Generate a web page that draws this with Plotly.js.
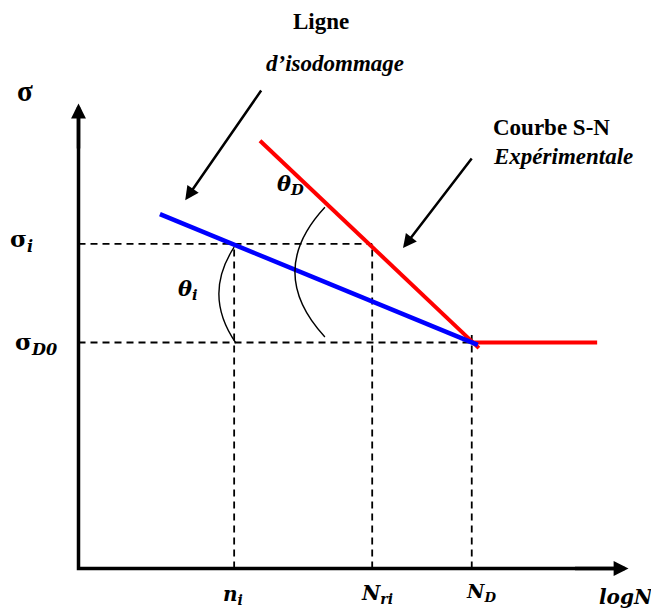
<!DOCTYPE html>
<html>
<head>
<meta charset="utf-8">
<script src="https://cdn.plot.ly/plotly-3.0.1.min.js"></script>
<style>html,body{margin:0;padding:0;background:#fff}</style>
</head>
<body>
<div id="chart" style="width:651px;height:610px"></div>
<script>
// Schematic S-N diagram: log N on x, stress sigma on y (arbitrary units, axes run 0..10)
const axisEnd = [10, 10];                 // tips of the logN and sigma axes
const cycleMarks = [2.83, 5.34, 7.15];    // n_i, N_ri, N_D
const stressMarks = [6.98, 4.86];         // sigma_i, sigma_D0

// Experimental S-N curve: sloped branch, then endurance plateau
const snSlopeX = [3.30, 7.28];
const snSlopeY = [9.20, 4.74];
const snPlateauX = [7.15, 9.43];
const snPlateauY = [4.86, 4.86];

// Iso-damage line
const isoX = [1.48, 7.26];
const isoY = [7.62, 4.81];

// Angle arcs: start, bulge control, end
const arcThetaI = [[2.83, 6.91], [2.26, 5.88], [2.86, 4.85]];
const arcThetaD = [[4.48, 7.77], [3.39, 6.38], [4.48, 4.98]];

// Pointer arrows: [tail, head]
const isoPointer = [[3.34, 10.31], [1.94, 7.92]];
const snPointer = [[7.17, 8.85], [5.90, 6.89]];

const nI = cycleMarks[0], nRi = cycleMarks[1], nD = cycleMarks[2];
const sigI = stressMarks[0], sigD0 = stressMarks[1];

const dashLine = {color: '#000', width: 1.8, dash: '7px,5px'};
function seg(x, y, line) {
  return {x: x, y: y, type: 'scatter', mode: 'lines', line: line,
          hoverinfo: 'skip', showlegend: false};
}

const traces = [
  // guide lines
  seg([0, nRi], [sigI, sigI], dashLine),
  seg([0, nD], [sigD0, sigD0], dashLine),
  seg([nI, nI], [0, sigI], dashLine),
  seg([nRi, nRi], [0, sigI], dashLine),
  seg([nD, nD], [0, sigD0 + 0.16], dashLine),
  // axes
  seg([0, 0, axisEnd[0] - 0.2], [axisEnd[1] - 0.2, 0, 0], {color: '#000', width: 3.5}),
  // curves
  seg(snSlopeX, snSlopeY, {color: '#ff0000', width: 4}),
  seg(snPlateauX, snPlateauY, {color: '#ff0000', width: 4}),
  seg(isoX, isoY, {color: '#0000ff', width: 4.5})
];

function arcPath(a) {
  return 'M' + a[0][0] + ',' + a[0][1] + ' Q' + a[1][0] + ',' + a[1][1] + ' ' + a[2][0] + ',' + a[2][1];
}
const shapes = [arcThetaI, arcThetaD].map(a => ({
  type: 'path', xref: 'x', yref: 'y', path: arcPath(a),
  line: {color: '#000', width: 1.4}
}));

const serif = 'Liberation Serif, Times New Roman, serif';
const math = 'DejaVu Serif, serif';

function label(x, y, text, size, family, anchor) {
  return {x: x, y: y, xref: 'x', yref: 'y', text: text, showarrow: false,
          xanchor: anchor || 'center', yanchor: 'middle',
          font: {family: family, size: size, color: '#000'}};
}
function arrow(tail, head, width, size) {
  return {x: head[0], y: head[1], ax: tail[0], ay: tail[1], axref: 'x', ayref: 'y',
          xref: 'x', yref: 'y', text: '', showarrow: true, arrowhead: 2,
          arrowsize: size, arrowwidth: width, arrowcolor: '#000'};
}

const annotations = [
  // axis heads
  arrow([0, axisEnd[1] - 1], [0, axisEnd[1]], 3.5, 0.85),
  arrow([axisEnd[0] - 1, 0], [axisEnd[0], 0], 3.5, 0.85),
  // pointers to the two curves
  arrow(isoPointer[0], isoPointer[1], 2.5, 1.1),
  arrow(snPointer[0], snPointer[1], 2.5, 1.1),
  // texts
  label(-0.97, 10.27, '<b>σ</b>', 29, serif),
  label(4.41, 11.77, '<b>Ligne</b>', 23, serif),
  label(4.66, 10.86, '<b><i>d’isodommage</i></b>', 23, serif),
  label(7.5, 9.49, '<b>Courbe S-N</b>', 23, serif, 'left'),
  label(7.5, 8.85, '<b><i>Expérimentale</i></b>', 23, serif, 'left'),
  label(3.85, 8.25, '<b><i>θ</i></b><sub><b><i>D</i></b></sub>', 21, math),
  label(1.99, 5.99, '<b><i>θ</i></b><sub><b><i>i</i></b></sub>', 21, math),
  label(-1.03, 7.06, '<b>σ</b><sub><b><i>i</i></b></sub>', 23, math),
  label(-0.77, 4.83, '<b>σ</b><sub><b><i>D0</i></b></sub>', 23, math),
  label(2.81, -0.56, '<b><i>n</i></b><sub><b><i>i</i></b></sub>', 20, math),
  label(5.43, -0.55, '<b><i>N</i></b><sub><b><i>ri</i></b></sub>', 20, math),
  label(7.32, -0.52, '<b><i>N</i></b><sub><b><i>D</i></b></sub>', 19, math),
  label(9.95, -0.62, '<b><i>logN</i></b>', 20, math)
];

const layout = {
  width: 651, height: 610,
  margin: {l: 0, r: 0, t: 0, b: 0},
  paper_bgcolor: '#fff', plot_bgcolor: '#fff',
  xaxis: {range: [-78.5 / 55, (651 - 78.5) / 55], visible: false, fixedrange: true},
  yaxis: {range: [(568.5 - 610) / 46.5, 568.5 / 46.5], visible: false, fixedrange: true},
  shapes: shapes,
  annotations: annotations,
  showlegend: false
};

Plotly.newPlot('chart', traces, layout, {displayModeBar: false, staticPlot: true});
</script>
</body>
</html>
